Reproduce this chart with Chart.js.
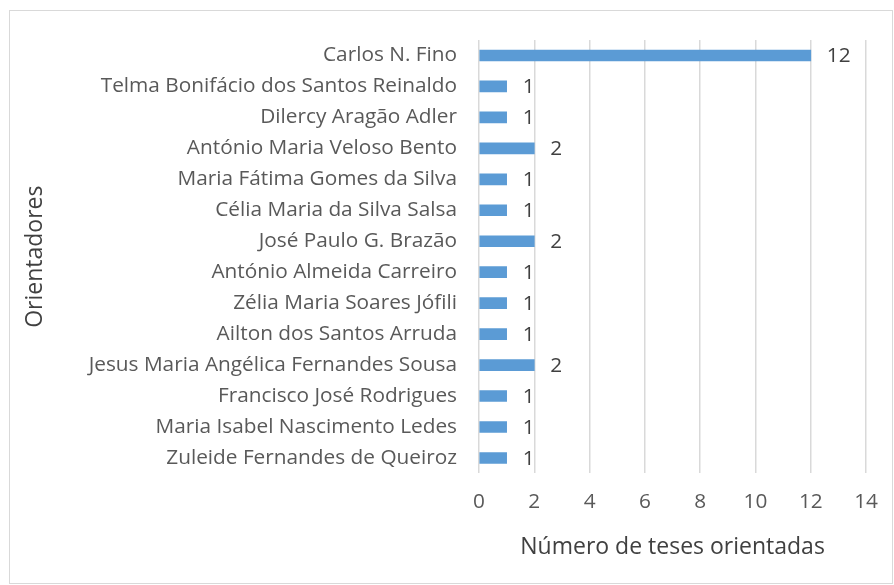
<!DOCTYPE html>
<html>
<head>
<meta charset="utf-8">
<script src="https://cdn.jsdelivr.net/npm/chart.js@4.4.0/dist/chart.umd.min.js"></script>
<style>
	html, body { margin: 0; padding: 0; background: #fff; }
	#frame { position: absolute; left: 9px; top: 10px; width: 884px; height: 574px; border: 1px solid #d9d9d9; box-sizing: border-box; }
	#wrap { position: absolute; left: 0; top: 0; width: 894px; height: 585px; }
</style>
</head>
<body>
<div id="frame"></div>
<div id="wrap"><canvas id="chart" width="894" height="585"></canvas></div>
<script>
// orientadores, from top to bottom as in the picture
const orientadores = [
	'Carlos N. Fino',
	'Telma Bonifácio dos Santos Reinaldo',
	'Dilercy Aragão Adler',
	'António Maria Veloso Bento',
	'Maria Fátima Gomes da Silva',
	'Célia Maria da Silva Salsa',
	'José Paulo G. Brazão',
	'António Almeida Carreiro',
	'Zélia Maria Soares Jófili',
	'Ailton dos Santos Arruda',
	'Jesus Maria Angélica Fernandes Sousa',
	'Francisco José Rodrigues',
	'Maria Isabel Nascimento Ledes',
	'Zuleide Fernandes de Queiroz'
];
const teses = [12, 1, 1, 2, 1, 1, 2, 1, 1, 1, 2, 1, 1, 1];

const textColor = '#595959';
const fontFamily = '"Open Sans", sans-serif';

// draws the value right after the end of each bar
const valueLabels = {
	id: 'valueLabels',
	afterDatasetsDraw(chart) {
		const ctx = chart.ctx;
		const meta = chart.getDatasetMeta(0);
		ctx.save();
		ctx.fillStyle = '#404040';
		ctx.font = '20.8px ' + fontFamily;
		ctx.textAlign = 'left';
		ctx.textBaseline = 'middle';
		meta.data.forEach((bar, i) => {
			ctx.fillText(String(teses[i]), bar.x + 16, bar.y + 1);
		});
		ctx.restore();
	}
};

new Chart(document.getElementById('chart').getContext('2d'), {
	type: 'bar',
	data: {
		labels: orientadores,
		datasets: [{
			data: teses,
			backgroundColor: '#5b9bd5',
			barThickness: 11
		}]
	},
	options: {
		indexAxis: 'y',
		responsive: false,
		animation: false,
		layout: { padding: { left: 22, top: 40, right: 18, bottom: 24 } },
		plugins: {
			legend: { display: false },
			tooltip: { enabled: false }
		},
		scales: {
			x: {
				min: 0,
				max: 14,
				ticks: { stepSize: 2, color: textColor, font: { family: fontFamily, size: 20.8 }, padding: 16 },
				grid: { color: '#d9d9d9', lineWidth: 1.5, drawTicks: false },
				border: { display: false },
				title: { display: true, text: 'Número de teses orientadas', color: '#404040', font: { family: fontFamily, size: 23 }, padding: { top: 3, bottom: 0 } }
			},
			y: {
				// the labels are long, chart.js would cap the axis at half the width
				afterFit(scale) { scale.width = 457; },
				ticks: { color: textColor, font: { family: fontFamily, size: 20.8 }, padding: 14, autoSkip: false },
				grid: { display: false },
				border: { display: false },
				title: { display: true, text: 'Orientadores', color: '#404040', font: { family: fontFamily, size: 23 }, padding: { top: 0, bottom: 16 } }
			}
		}
	},
	plugins: [valueLabels]
});
</script>
</body>
</html>
